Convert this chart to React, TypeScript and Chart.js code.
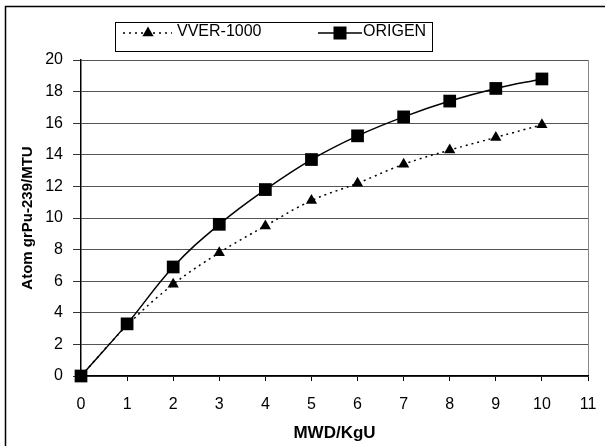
import React, { useEffect, useRef } from 'react';
import { Chart, registerables } from 'chart.js';

Chart.register(...registerables);

const xValues = [0, 1, 2, 3, 4, 5, 6, 7, 8, 9, 10];
const vverValues = [0, 3.2, 5.8, 7.8, 9.5, 11.1, 12.2, 13.4, 14.3, 15.1, 15.9];
const origenValues = [0, 3.3, 6.9, 9.6, 11.8, 13.7, 15.2, 16.4, 17.4, 18.2, 18.8];
const seriesLabels = ['VVER-1000', 'ORIGEN'];
const xTitle = 'MWD/KgU';
const yTitle = 'Atom grPu-239/MTU';
const xMin = 0;
const xMax = 11;
const yMin = 0;
const yMax = 20;

const FONT = '"Liberation Sans", Arial, Helvetica, sans-serif';

const frameAndLegend = {
  id: 'frameAndLegend',
  beforeDraw(chart: any) {
    const ctx = chart.ctx;
    ctx.save();
    ctx.fillStyle = '#fff';
    ctx.fillRect(0, 0, chart.width, chart.height);
    ctx.strokeStyle = '#000';
    ctx.lineWidth = 1.5;
    ctx.strokeRect(5.5, 6.5, chart.width + 50, chart.height + 50);
    ctx.restore();
  },
  afterDraw(chart: any) {
    const ctx = chart.ctx;
    const labels = chart.data.datasets.map((d: any) => d.label);
    ctx.save();
    ctx.strokeStyle = '#000';
    ctx.lineWidth = 1;
    ctx.strokeRect(115.5, 22.5, 317, 29);
    const sy = 33;
    ctx.lineWidth = 1.5;
    ctx.setLineDash([2, 4]);
    ctx.beginPath();
    ctx.moveTo(123, sy);
    ctx.lineTo(172, sy);
    ctx.stroke();
    ctx.setLineDash([]);
    const r = 6.5;
    const tx = 148;
    ctx.fillStyle = '#000';
    ctx.beginPath();
    ctx.moveTo(tx, sy - r);
    ctx.lineTo(tx + r * Math.sin(Math.PI / 3), sy + r / 2);
    ctx.lineTo(tx - r * Math.sin(Math.PI / 3), sy + r / 2);
    ctx.closePath();
    ctx.fill();
    ctx.beginPath();
    ctx.moveTo(318, sy);
    ctx.lineTo(362, sy);
    ctx.stroke();
    ctx.fillRect(340 - 6.5, sy - 6.5, 13, 13);
    ctx.font = '16px ' + FONT;
    ctx.textBaseline = 'alphabetic';
    ctx.textAlign = 'left';
    ctx.fillText(labels[0], 177, 36);
    ctx.fillText(labels[1], 363, 36);
    ctx.restore();
  },
};

export default function App() {
  const canvasRef = useRef<HTMLCanvasElement | null>(null);

  useEffect(() => {
    if (!canvasRef.current) return;
    const chart = new Chart(canvasRef.current, {
      type: 'line',
      data: {
        datasets: [
          {
            label: seriesLabels[0],
            data: xValues.map((x, i) => ({ x, y: vverValues[i] })),
            borderColor: '#000',
            backgroundColor: '#000',
            borderWidth: 1.5,
            borderDash: [2, 4],
            pointStyle: 'triangle',
            pointRadius: 6.5,
            pointBorderWidth: 0,
            tension: 0.4,
            clip: false as any,
            order: 1,
          },
          {
            label: seriesLabels[1],
            data: xValues.map((x, i) => ({ x, y: origenValues[i] })),
            borderColor: '#000',
            backgroundColor: '#000',
            borderWidth: 1.5,
            pointStyle: 'rect',
            pointRadius: 9,
            pointBorderWidth: 0,
            tension: 0.4,
            clip: false as any,
            order: 0,
          },
        ],
      },
      options: {
        responsive: false,
        animation: false,
        layout: { padding: { top: 60, right: 17, left: 0, bottom: 0 } },
        plugins: {
          legend: { display: false },
          tooltip: { enabled: false },
        },
        scales: {
          x: {
            type: 'linear',
            min: xMin,
            max: xMax,
            afterFit: (s: any) => {
              s.height = 70;
              s.paddingLeft = 0;
              s.paddingRight = 0;
            },
            ticks: {
              stepSize: 1,
              color: '#000',
              font: { family: FONT, size: 16 },
              padding: 14,
              maxRotation: 0,
            },
            grid: {
              color: (c: any) => (c.tick && c.tick.value === xMax ? '#888' : 'rgba(0,0,0,0)'),
              tickColor: '#000',
              tickLength: 5,
              drawOnChartArea: true,
            },
            border: { display: true, color: '#000', width: 1.5 },
            title: {
              display: true,
              text: xTitle,
              color: '#000',
              font: { family: FONT, size: 17, weight: 'bold' },
              padding: { top: 0, bottom: 2 },
            },
          },
          y: {
            type: 'linear',
            min: yMin,
            max: yMax,
            afterFit: (s: any) => {
              s.width = 81;
            },
            ticks: {
              stepSize: 2,
              color: '#000',
              font: { family: FONT, size: 16 },
              padding: 10,
            },
            grid: {
              color: '#555',
              tickColor: '#333',
              tickLength: 8,
            },
            border: { display: true, color: '#000', width: 1.5 },
            title: {
              display: true,
              text: yTitle,
              color: '#000',
              font: { family: FONT, size: 15, weight: 'bold' },
              padding: { top: 19, bottom: 0 },
            },
          },
        },
      },
      plugins: [frameAndLegend],
    });
    return () => chart.destroy();
  }, []);

  return (
    <div style={{ position: 'absolute', left: 0, top: 0, width: 605, height: 446 }}>
      <canvas ref={canvasRef} width={605} height={446} style={{ display: 'block' }} />
    </div>
  );
}
